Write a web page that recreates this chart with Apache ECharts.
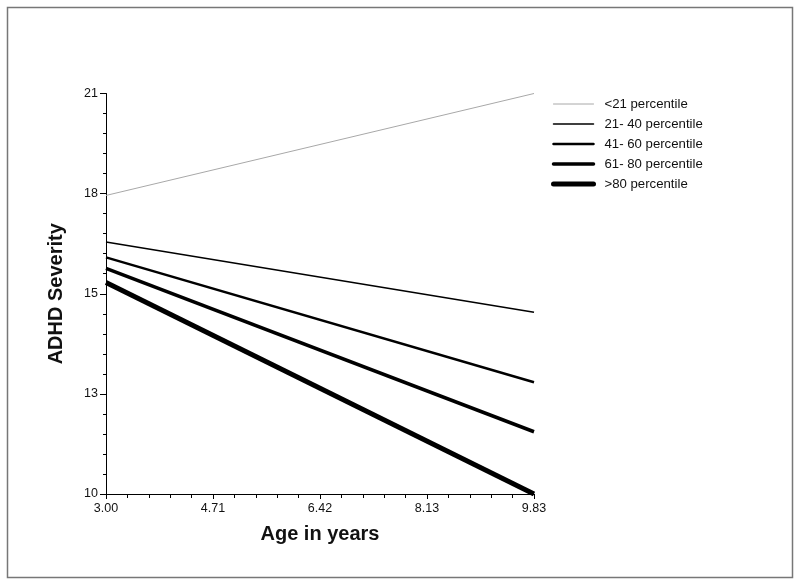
<!DOCTYPE html>
<html>
<head>
<meta charset="utf-8">
<script src="https://cdn.jsdelivr.net/npm/echarts@6/dist/echarts.min.js"></script>
<style>html,body{margin:0;padding:0;background:#fff}#c{width:800px;height:588px}</style>
</head>
<body>
<div id="c"></div>
<script>
// Data (axis units: linear scale 10..21, ticks labelled as in the original)
const ages = [3.00, 9.83];
const seriesNames = ['<21 percentile', '21- 40 percentile', '41- 60 percentile', '61- 80 percentile', '>80 percentile'];
const seriesValues = [
  [18.20, 21.00],
  [16.92, 14.99],
  [16.50, 13.07],
  [16.20, 11.71],
  [15.81, 10.00]
];
const lineWidths = [1, 1.5, 2.5, 3.5, 5];
const lineColors = ['#a8a8a8', '#000', '#000', '#000', '#000'];
const xTickLabels = ['3.00', '4.71', '6.42', '8.13', '9.83'];
const yTickLabels = ['10', '13', '15', '18', '21'];

const chart = echarts.init(document.getElementById('c'));
const font = '"Liberation Sans", Arial, sans-serif';
chart.setOption({
  animation: false,
  backgroundColor: '#fff',
  graphic: [{
    type: 'rect', shape: {x: 7.5, y: 7.5, width: 785, height: 570},
    style: {fill: 'none', stroke: '#777', lineWidth: 1.5}, silent: true
  }],
  grid: {left: 106, right: 266, top: 93.5, bottom: 94},
  legend: {
    orient: 'vertical', left: 551, top: 97.5, padding: 0,
    itemWidth: 40, itemHeight: 14, itemGap: 7,
    lineStyle: {width: 'inherit', cap: 'round'},
    itemStyle: {opacity: 0},
    textStyle: {fontFamily: font, fontSize: 13.2, color: '#111', padding: [0, 0, 0, 6]},
    data: seriesNames
  },
  xAxis: {
    type: 'value', min: 3, max: 9.83, interval: 1.7075,
    name: 'Age in years', nameLocation: 'middle', nameGap: 30,
    nameTextStyle: {fontFamily: font, fontSize: 20, fontWeight: 'bold', color: '#111'},
    axisLine: {lineStyle: {color: '#000', width: 1}},
    axisTick: {show: true, length: 5, lineStyle: {color: '#000'}},
    minorTick: {show: true, splitNumber: 5, length: 4, lineStyle: {color: '#000'}},
    splitLine: {show: false},
    axisLabel: {
      fontFamily: font, fontSize: 12.5, color: '#111', margin: 8,
      formatter: (v, i) => xTickLabels[i] !== undefined ? xTickLabels[i] : ''
    }
  },
  yAxis: {
    type: 'value', min: 10, max: 21, interval: 2.75,
    name: 'ADHD Severity', nameLocation: 'middle', nameGap: 40,
    nameTextStyle: {fontFamily: font, fontSize: 20, fontWeight: 'bold', color: '#111'},
    axisLine: {show: true, lineStyle: {color: '#000', width: 1}},
    axisTick: {show: true, length: 6, lineStyle: {color: '#000'}},
    minorTick: {show: true, splitNumber: 5, length: 3, lineStyle: {color: '#000'}},
    splitLine: {show: false},
    axisLabel: {
      fontFamily: font, fontSize: 12.5, color: '#111', margin: 8,
      formatter: (v, i) => yTickLabels[i] !== undefined ? yTickLabels[i] : ''
    }
  },
  series: seriesNames.map((n, k) => ({
    name: n, type: 'line', symbol: 'none', silent: true,
    data: ages.map((a, j) => [a, seriesValues[k][j]]),
    lineStyle: {width: lineWidths[k], color: lineColors[k]},
    itemStyle: {color: lineColors[k]}
  }))
});
</script>
</body>
</html>
